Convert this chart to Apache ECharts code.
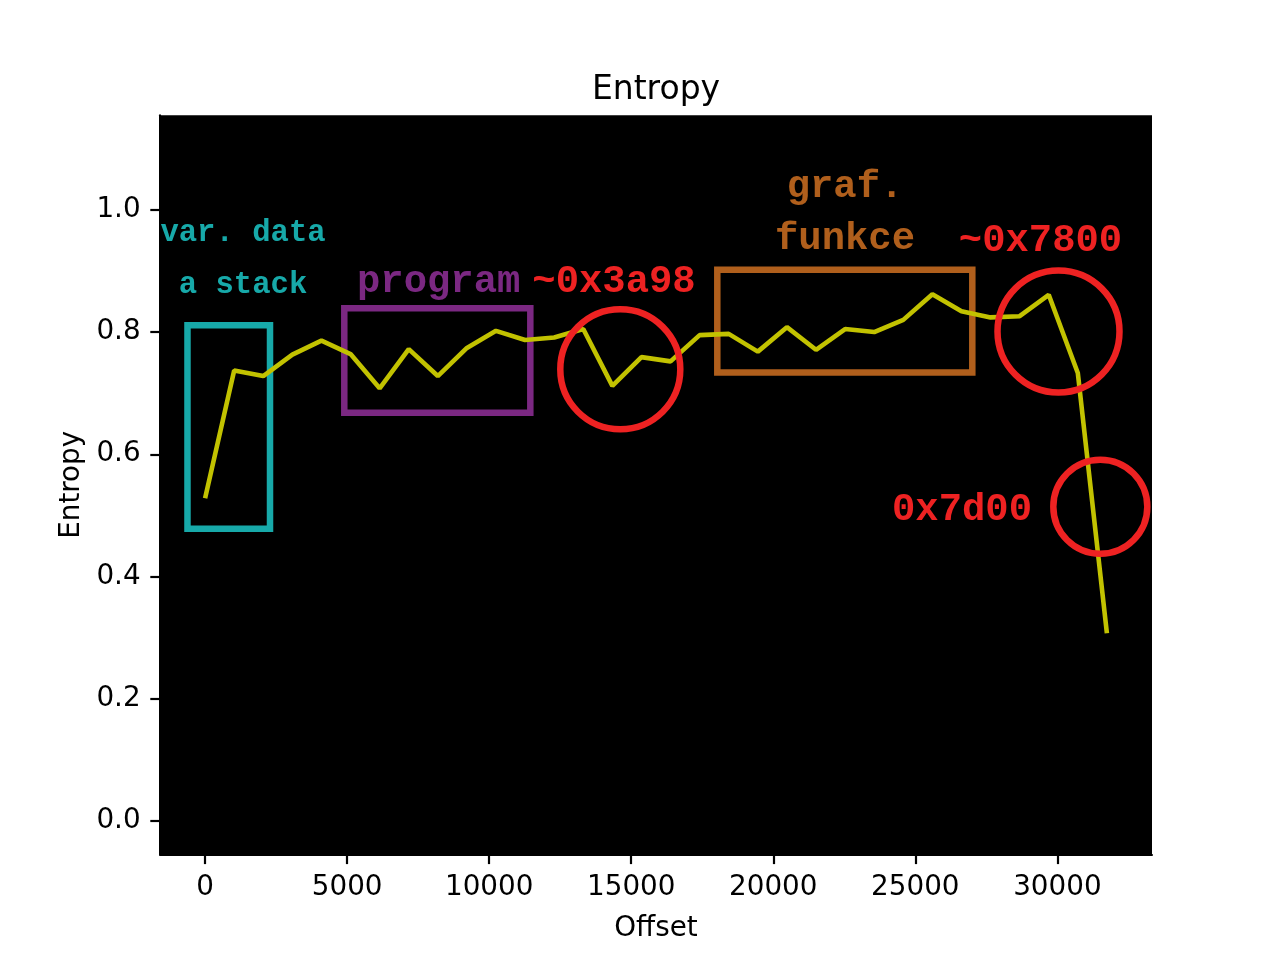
<!DOCTYPE html>
<html>
<head>
<meta charset="utf-8">
<script src="https://cdn.jsdelivr.net/npm/echarts@6/dist/echarts.min.js"></script>
<style>
  html, body { margin: 0; padding: 0; background: #fff; }
  #chart { width: 1280px; height: 960px; }
</style>
</head>
<body>
<div id="chart"></div>
<script>
// offset of each block
var offsets = [0, 1024, 2048, 3072, 4096, 5120, 6144, 7168, 8192, 9216, 10240, 11264,
  12288, 13312, 14336, 15360, 16384, 17408, 18432, 19456, 20480, 21504, 22528, 23552,
  24576, 25600, 26624, 27648, 28672, 29696, 30720, 31744];
// entropy per block
var entropy = [0.528, 0.737, 0.728, 0.763, 0.786, 0.764, 0.708, 0.772, 0.728, 0.774, 0.802, 0.787,
  0.791, 0.805, 0.712, 0.759, 0.752, 0.795, 0.797, 0.768, 0.808, 0.771, 0.805, 0.800,
  0.820, 0.862, 0.834, 0.824, 0.826, 0.861, 0.733, 0.307];

var xTicks = [0, 5000, 10000, 15000, 20000, 25000, 30000];
var yTicks = [0, 0.2, 0.4, 0.6, 0.8, 1.0];

// boxes round the regions
var boxX0 = [-620, 4900, 18030];
var boxX1 = [2285, 11448, 27006];
var boxY0 = [0.478, 0.668, 0.734];
var boxY1 = [0.811, 0.839, 0.902];

// red circles
var circleX = [14615, 30040, 31512];
var circleY = [0.739, 0.801, 0.514];

// annotation texts
var noteText = ['var. data', 'a stack', 'program', '~0x3a98', 'graf.', 'funkce', '~0x7800', '0x7d00'];
var noteX = [1335, 1335, 8223, 14394, 22525, 22525, 29407, 26643];
var noteY = [0.967, 0.881, 0.886, 0.886, 1.042, 0.957, 0.9535, 0.5127];

var boxColors = ['#17a9a9', '#7b2882', '#b05f1c'];
var red = '#ee2222';
var noteColors = ['#17a9a9', '#17a9a9', '#7b2882', red, '#b05f1c', '#b05f1c', red, red];
var noteSizes = [30.6, 30.6, 38.9, 38.9, 38.9, 38.9, 38.9, 38.9];
var circleSizes = [120, 122, 94];

var lineData = [];
for (var i = 0; i < offsets.length; i++) {
  lineData.push([offsets[i], entropy[i]]);
}
var boxes = [];
for (var i = 0; i < boxX0.length; i++) {
  boxes.push([
    { coord: [boxX0[i], boxY1[i]], itemStyle: { color: 'transparent', borderColor: boxColors[i], borderWidth: 6.5, opacity: 1 } },
    { coord: [boxX1[i], boxY0[i]] }
  ]);
}
var circles = [];
for (var i = 0; i < circleX.length; i++) {
  circles.push({ value: [circleX[i], circleY[i]], symbolSize: circleSizes[i] });
}
var notes = [];
for (var i = 0; i < noteText.length; i++) {
  notes.push({
    value: [noteX[i], noteY[i]],
    name: noteText[i],
    label: { color: noteColors[i], fontSize: noteSizes[i] }
  });
}

var tickFont = { fontFamily: 'DejaVu Sans', fontSize: 27.8, color: '#000' };

var option = {
  animation: false,
  backgroundColor: '#fff',
  title: {
    text: 'Entropy',
    left: 651,
    top: 69,
    textAlign: 'center',
    textStyle: { fontFamily: 'DejaVu Sans', fontSize: 33, fontWeight: 'normal', color: '#000' }
  },
  grid: {
    left: 160, right: 128, top: 115.2, bottom: 105.6,
    show: true, backgroundColor: '#000', borderWidth: 0
  },
  xAxis: {
    type: 'value',
    min: -1587.2,
    max: 33331.2,
    name: 'Offset',
    nameLocation: 'middle',
    nameGap: 60,
    nameTextStyle: tickFont,
    axisLine: { show: true, onZero: false, lineStyle: { color: '#000', width: 2 } },
    axisTick: { show: true, length: 9.7, lineStyle: { color: '#000', width: 2.2 }, customValues: xTicks },
    axisLabel: Object.assign({ margin: 19.4, customValues: xTicks, formatter: function (v) { return String(v); } }, tickFont),
    splitLine: { show: false }
  },
  yAxis: {
    type: 'value',
    min: -0.055,
    max: 1.155,
    name: 'Entropy',
    nameLocation: 'middle',
    nameGap: 72,
    nameTextStyle: tickFont,
    axisLine: { show: true, onZero: false, lineStyle: { color: '#000', width: 2 } },
    axisTick: { show: true, length: 9.7, lineStyle: { color: '#000', width: 2.2 }, customValues: yTicks },
    axisLabel: Object.assign({ margin: 19.4, padding: [12, 0, 0, 0], customValues: yTicks, formatter: function (v) { return v.toFixed(1); } }, tickFont),
    splitLine: { show: false }
  },
  series: [
    {
      type: 'line',
      data: lineData,
      symbol: 'none',
      lineStyle: { color: '#c2c200', width: 4.6 },
      z: 2
    },
    {
      type: 'scatter',
      data: circles,
      symbol: 'circle',
      itemStyle: { color: 'transparent', borderColor: red, borderWidth: 6.5, opacity: 1 },
      emphasis: { disabled: true },
      z: 3,
      markArea: {
        silent: true,
        data: boxes
      }
    },
    {
      type: 'scatter',
      data: notes,
      symbolSize: 1,
      itemStyle: { color: 'transparent', opacity: 1 },
      emphasis: { disabled: true },
      z: 4,
      label: {
        show: true,
        position: 'inside',
        offset: [0, 3],
        formatter: '{b}',
        fontFamily: 'Liberation Mono',
        fontWeight: 'bold',
        opacity: 1
      }
    }
  ]
};

var myChart = echarts.init(document.getElementById('chart'));
myChart.setOption(option);
</script>
</body>
</html>
